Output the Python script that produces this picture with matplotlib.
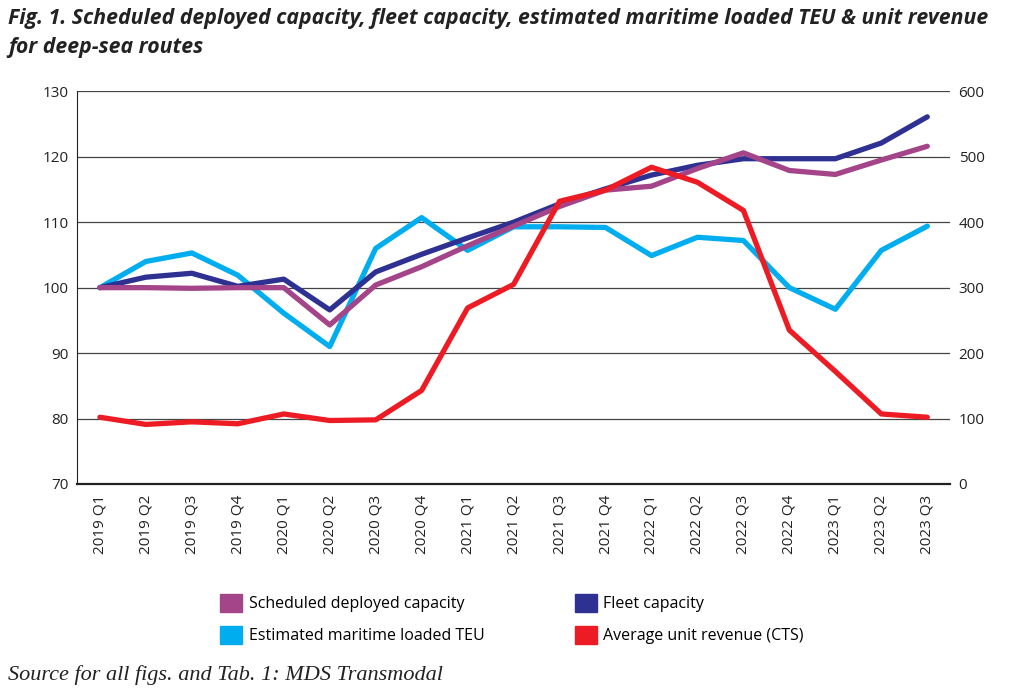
import matplotlib.pyplot as plt
from matplotlib.patches import Patch

quarters = ['2019 Q1', '2019 Q2', '2019 Q3', '2019 Q4',
            '2020 Q1', '2020 Q2', '2020 Q3', '2020 Q4',
            '2021 Q1', '2021 Q2', '2021 Q3', '2021 Q4',
            '2022 Q1', '2022 Q2', '2022 Q3', '2022 Q4',
            '2023 Q1', '2023 Q2', '2023 Q3']

scheduled = [100, 100, 99.9, 100, 100, 94.3, 100.4, 103.2, 106.4, 109.4,
             112.4, 114.9, 115.5, 118.2, 120.6, 117.9, 117.3, 119.5, 121.6]
fleet = [100, 101.6, 102.2, 100.2, 101.3, 96.6, 102.4, 105.1, 107.6, 110.0,
         112.8, 115.1, 117.2, 118.7, 119.7, 119.7, 119.7, 122.1, 126.1]
teu = [100, 104.0, 105.3, 101.9, 96.1, 91.0, 106.0, 110.7, 105.7, 109.3,
       109.3, 109.2, 104.9, 107.7, 107.2, 100.0, 96.7, 105.7, 109.4]
revenue = [102, 91, 95, 92, 107, 97, 98, 143, 269, 305,
           432, 449, 484, 461, 418, 235, 172, 107, 102]

c_sched = '#A4458A'
c_fleet = '#2E3192'
c_teu = '#00AEEF'
c_rev = '#ED1C24'

plt.rcParams['font.family'] = ['Open Sans', 'DejaVu Sans']

fig = plt.figure(figsize=(10.12, 6.97), dpi=100)
ax = fig.add_axes([0.076, 0.3056, 0.863, 0.5634])
ax2 = ax.twinx()

x = range(len(quarters))
lw = 3.8
ax.plot(x, teu, color=c_teu, lw=lw, solid_capstyle='round', zorder=3)
ax.plot(x, fleet, color=c_fleet, lw=lw, solid_capstyle='round', zorder=4)
ax.plot(x, scheduled, color=c_sched, lw=lw, solid_capstyle='round', zorder=5)
ax2.plot(x, revenue, color=c_rev, lw=lw, solid_capstyle='round', zorder=6)

ax.set_xlim(-0.5, len(quarters) - 0.5)
ax.set_ylim(70, 130)
ax2.set_ylim(0, 600)
ax.set_yticks(range(70, 131, 10))
ax2.set_yticks(range(0, 601, 100))
ax.yaxis.grid(True, color='#444444', lw=0.9)
ax.set_axisbelow(True)

ax.set_xticks(list(x))
ax.set_xticklabels(quarters, rotation=90, fontsize=10.5)
ax.tick_params(axis='both', length=0, labelsize=11, colors='#222222')
ax.tick_params(axis='x', pad=8)
ax.tick_params(axis='y', pad=6)
ax2.tick_params(axis='y', length=0, labelsize=11, colors='#222222', pad=6)

for a in (ax, ax2):
    a.spines['top'].set_visible(False)
    a.spines['right'].set_visible(False)
ax2.spines['left'].set_visible(False)
ax2.spines['bottom'].set_visible(False)
ax.spines['left'].set_color('#222222')
ax.spines['bottom'].set_color('#222222')
ax.spines['bottom'].set_linewidth(1.6)

fig.text(0.008, 0.988, 'Fig. 1. Scheduled deployed capacity, fleet capacity, estimated maritime loaded TEU & unit revenue\nfor deep-sea routes',
         fontsize=15.3, fontweight='bold', fontstyle='italic', color='#222222',
         va='top', ha='left', linespacing=1.45)

handles = [Patch(color=c_sched), Patch(color=c_teu), Patch(color=c_fleet), Patch(color=c_rev)]
labels = ['Scheduled deployed capacity', 'Estimated maritime loaded TEU',
          'Fleet capacity', 'Average unit revenue (CTS)']
fig.legend(handles, labels, ncol=2, loc='upper left', bbox_to_anchor=(0.203, 0.169),
           frameon=False, fontsize=11.5, handlelength=1.4, handleheight=1.4,
           handletextpad=0.4, columnspacing=5.65, labelspacing=0.85)

fig.text(0.008, 0.031, 'Source for all figs. and Tab. 1: MDS Transmodal',
         fontsize=16, fontstyle='italic', family=['Liberation Serif', 'DejaVu Serif'],
         color='#222222', va='center', ha='left')

fig.savefig('out.png', dpi=100)
